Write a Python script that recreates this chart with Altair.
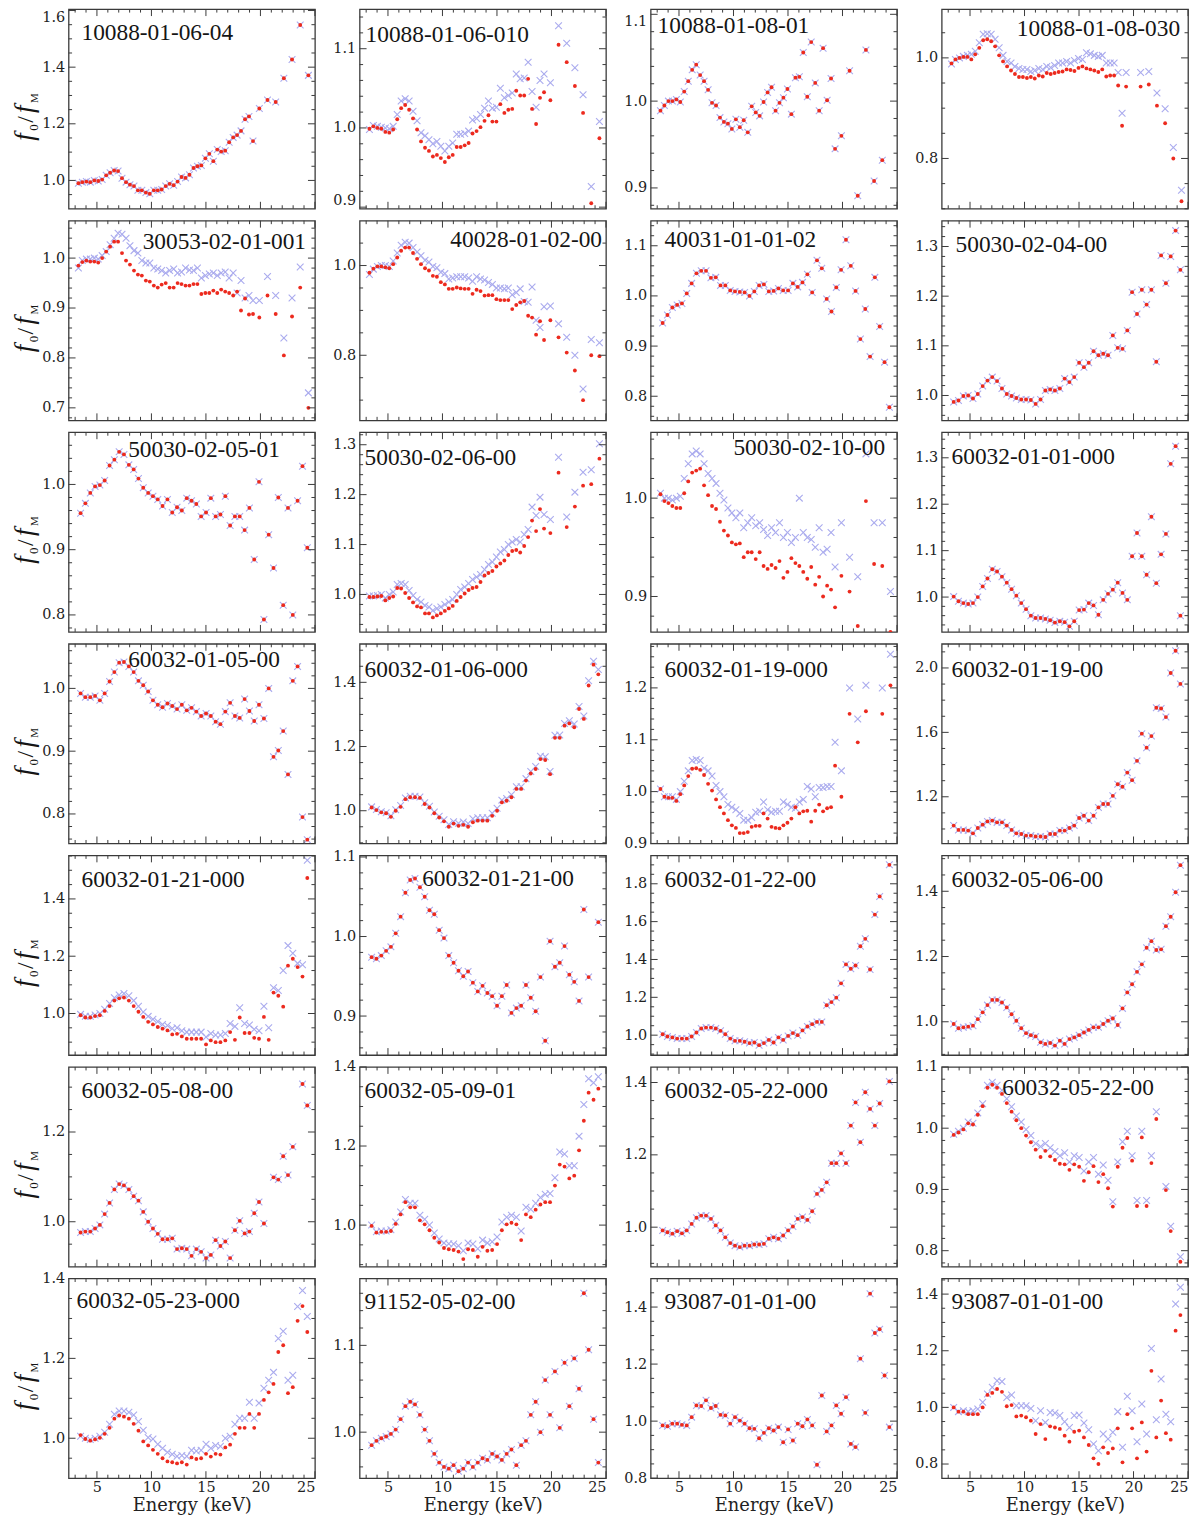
import altair as alt
import pandas as pd
import numpy as np

# ---------------- energy grids (keV) ----------------
EA = [3.30, 3.66, 4.03, 4.39, 4.76, 5.12, 5.48, 5.85, 6.21, 6.58, 6.94, 7.30, 7.67, 8.03, 8.40,
      8.76, 9.12, 9.49, 9.85, 10.22, 10.58, 10.94, 11.31, 11.67, 12.04, 12.40, 12.76, 13.13, 13.49,
      13.86, 14.22, 14.58, 14.95, 15.31, 15.68, 16.04, 16.40, 16.77, 17.13, 17.50, 17.86, 18.22,
      18.59, 18.95, 19.32, 19.90, 20.65, 21.40, 22.15, 22.90, 23.65, 24.40]
EB = [3.50, 3.94, 4.39, 4.83, 5.27, 5.71, 6.16, 6.60, 7.04, 7.48, 7.93, 8.37, 8.81, 9.25, 9.70,
      10.14, 10.58, 11.02, 11.47, 11.91, 12.35, 12.79, 13.24, 13.68, 14.12, 14.56, 15.01, 15.45,
      15.89, 16.33, 16.78, 17.22, 17.66, 18.10, 18.55, 18.99, 19.43, 19.87, 20.32, 20.76, 21.20,
      21.64, 22.09, 22.53, 22.97, 23.41, 23.86, 24.30]

# ---------------- ratio values: R = red dots, B = lavender crosses ----------------
R01 = [0.990, 0.994, 0.996, 0.994, 1.000, 0.998, 1.003, 1.018, 1.027, 1.035, 1.033, 1.008, 0.994, 0.985, 0.980, 0.965, 0.965, 0.957, 0.953, 0.965, 0.965, 0.968, 0.980, 0.988, 0.983, 0.996, 1.012, 1.009, 1.020, 1.044, 1.050, 1.053, 1.078, 1.094, 1.068, 1.109, 1.102, 1.105, 1.135, 1.152, 1.160, 1.175, 1.216, 1.226, 1.139, 1.254, 1.284, 1.277, 1.361, 1.427, 1.549, 1.371]
R02 = [0.999, 1.002, 1.0, 0.999, 0.995, 0.994, 0.998, 1.011, 1.025, 1.029, 1.023, 1.012, 0.998, 0.983, 0.975, 0.971, 0.964, 0.966, 0.962, 0.957, 0.963, 0.966, 0.976, 0.976, 0.978, 0.981, 0.993, 0.996, 1.001, 1.009, 1.016, 1.008, 1.008, 1.030, 1.019, 1.023, 1.024, 1.047, 1.041, 1.041, 1.062, 1.024, 1.005, 1.038, 1.045, 1.035, 1.105, 1.083, 1.053, 1.019, 0.905, 0.987]
B02 = [0.998, 1.003, 1.002, 1.001, 1.0, 0.999, 1.002, 1.017, 1.034, 1.037, 1.034, 1.021, 1.009, 0.994, 0.99, 0.985, 0.98, 0.983, 0.977, 0.971, 0.977, 0.981, 0.992, 0.992, 0.993, 0.996, 1.010, 1.012, 1.017, 1.025, 1.034, 1.025, 1.026, 1.050, 1.038, 1.041, 1.044, 1.068, 1.062, 1.063, 1.083, 1.046, 1.026, 1.06, 1.068, 1.057, 1.129, 1.107, 1.076, 1.042, 0.926, 1.008]
R03 = [0.989, 0.995, 1.0, 1.0, 1.002, 0.999, 1.011, 1.023, 1.036, 1.042, 1.030, 1.023, 1.013, 0.998, 0.995, 0.981, 0.976, 0.974, 0.968, 0.979, 0.970, 0.978, 0.964, 0.994, 0.987, 0.983, 0.999, 1.010, 1.016, 0.989, 0.998, 1.004, 1.014, 0.985, 1.027, 1.028, 1.056, 1.005, 1.068, 1.021, 0.989, 1.061, 1.001, 1.026, 0.945, 0.960, 1.035, 0.891, 1.059, 0.908, 0.932, None]
R04 = [0.989, 0.997, 1.0, 1.002, 1.002, 0.997, 1.007, 1.02, 1.035, 1.037, 1.033, 1.023, 1.005, 0.993, 0.983, 0.975, 0.968, 0.962, 0.962, 0.960, 0.962, 0.959, 0.965, 0.963, 0.970, 0.968, 0.970, 0.972, 0.973, 0.977, 0.976, 0.974, 0.980, 0.983, 0.979, 0.977, 0.975, 0.972, 0.977, 0.963, 0.965, 0.965, 0.945, 0.865, 0.943, None, 0.943, 0.947, 0.905, 0.87, 0.80, 0.715]
B04 = [0.988, 0.997, 1.0, 1.003, 1.005, 1.007, 1.013, 1.03, 1.047, 1.048, 1.047, 1.037, 1.02, 1.005, 0.993, 0.99, 0.983, 0.979, 0.977, 0.977, 0.973, 0.975, 0.979, 0.977, 0.983, 0.981, 0.985, 0.99, 0.99, 0.993, 0.99, 0.995, 0.999, 0.997, 1.01, 1.008, 1.005, 1.003, 1.005, 0.99, 0.99, 0.99, 0.971, 0.89, 0.971, None, 0.971, 0.973, 0.93, 0.899, 0.822, 0.737]
R05 = [0.985, 0.992, 0.995, 0.993, 0.993, 0.991, 1.0, 1.013, 1.023, 1.033, 1.033, 1.01, 0.995, 0.987, 0.975, 0.967, 0.965, 0.955, 0.953, 0.945, 0.941, 0.947, 0.95, 0.941, 0.941, 0.95, 0.948, 0.945, 0.945, 0.948, 0.948, 0.928, 0.93, 0.93, 0.935, 0.93, 0.937, 0.933, 0.93, 0.925, 0.933, 0.895, 0.919, 0.887, 0.888, 0.881, 0.925, 0.888, 0.805, 0.883, 0.941, 0.70]
B05 = [0.98, 0.995, 0.998, 0.998, 1.0, 0.998, 1.005, 1.013, 1.027, 1.04, 1.05, 1.048, 1.04, 1.025, 1.015, 1.01, 0.995, 0.99, 0.99, 0.98, 0.978, 0.975, 0.97, 0.975, 0.978, 0.97, 0.972, 0.98, 0.976, 0.975, 0.98, 0.96, 0.965, 0.968, 0.97, 0.965, 0.97, 0.972, 0.96, 0.97, 0.93, 0.955, 0.92, 0.925, 0.915, 0.915, 0.963, 0.925, 0.84, 0.92, 0.982, 0.73]
R06 = [0.984, 0.993, 0.998, 0.998, 0.996, 0.994, 1.003, 1.018, 1.033, 1.04, 1.04, 1.028, 1.015, 1.003, 0.994, 0.989, 0.977, 0.975, 0.963, 0.958, 0.948, 0.948, 0.951, 0.949, 0.948, 0.948, 0.937, 0.946, 0.943, 0.933, 0.934, 0.934, 0.925, 0.923, 0.923, 0.923, 0.903, 0.912, 0.918, 0.921, 0.888, 0.884, 0.846, 0.876, 0.834, 0.878, 0.84, 0.806, 0.766, 0.70, 0.80, 0.798]
B06 = [0.98, 0.992, 0.998, 1.0, 1.0, 0.998, 1.01, 1.028, 1.045, 1.052, 1.05, 1.04, 1.03, 1.022, 1.012, 1.008, 0.998, 0.995, 0.985, 0.982, 0.97, 0.972, 0.975, 0.975, 0.975, 0.972, 0.965, 0.975, 0.97, 0.968, 0.962, 0.958, 0.95, 0.95, 0.948, 0.95, 0.935, 0.94, 0.948, 0.92, 0.918, 0.952, 0.878, 0.862, 0.908, 0.91, 0.87, 0.84, 0.80, 0.725, 0.835, 0.828]
R07 = [0.946, 0.962, 0.977, 0.982, 0.985, 1.005, 1.025, 1.045, 1.05, 1.05, 1.036, 1.037, 1.021, 1.021, 1.011, 1.009, 1.008, 1.007, 1.0, 1.009, 1.021, 1.023, 1.009, 1.01, 1.015, 1.011, 1.011, 1.025, 1.018, 1.027, 1.043, 1.007, 1.071, 1.055, 0.994, 0.969, 1.017, 1.052, 1.112, 1.06, 1.01, 0.914, 0.974, 0.879, 1.037, 0.939, 0.868, 0.778]
R08 = [0.987, 0.99, 0.999, 1.0, 0.994, 1.003, 1.019, 1.03, 1.037, 1.029, 1.014, 1.003, 0.999, 0.995, 0.992, 0.992, 0.991, 0.983, 0.992, 1.01, 1.012, 1.01, 1.014, 1.034, 1.027, 1.037, 1.066, 1.057, 1.066, 1.089, 1.081, 1.084, 1.081, 1.121, 1.096, 1.094, 1.131, 1.208, 1.164, 1.213, 1.183, 1.213, 1.068, 1.282, 1.226, 1.28, 1.332, 1.253]
R09 = [0.956, 0.971, 0.987, 0.997, 0.999, 1.006, 1.029, 1.038, 1.05, 1.046, 1.03, 1.023, 1.009, 0.995, 0.987, 0.982, 0.977, 0.967, 0.977, 0.957, 0.965, 0.96, 0.979, 0.975, 0.97, 0.951, 0.957, 0.979, 0.951, 0.954, 0.982, 0.937, 0.951, 0.951, 0.93, 0.964, 0.885, 1.004, 0.793, 0.923, 0.872, 0.98, 0.815, 0.964, 0.80, 0.975, 1.028, 0.903]
R10 = [0.995, 0.995, 0.996, 0.997, 0.988, 0.993, 0.996, 1.013, 1.012, 1.003, 0.993, 0.984, 0.976, 0.974, 0.962, 0.962, 0.954, 0.958, 0.962, 0.967, 0.972, 0.977, 0.987, 0.995, 1.002, 1.009, 1.013, 1.015, 1.025, 1.038, 1.043, 1.047, 1.056, 1.062, 1.068, 1.079, 1.087, 1.089, 1.084, 1.097, 1.115, 1.148, 1.127, 1.171, 1.132, 1.123, 1.244, 1.135, 1.176, 1.218, 1.221, 1.272]
B10 = [0.997, 0.997, 0.998, 1.0, 0.993, 1.0, 1.005, 1.02, 1.022, 1.02, 1.008, 0.998, 0.99, 0.985, 0.978, 0.975, 0.968, 0.972, 0.975, 0.98, 0.985, 0.99, 1.0, 1.01, 1.015, 1.022, 1.03, 1.035, 1.04, 1.05, 1.06, 1.065, 1.075, 1.085, 1.09, 1.1, 1.105, 1.11, 1.105, 1.12, 1.13, 1.175, 1.158, 1.195, 1.16, 1.15, 1.275, 1.155, 1.205, 1.245, 1.25, 1.302]
R11 = [1.004, 0.997, 0.995, 0.992, 0.99, 0.99, 1.005, 1.017, 1.026, 1.028, 1.03, 1.013, 1.003, 0.992, 0.989, 0.976, 0.967, 0.962, 0.955, 0.953, 0.954, 0.94, 0.945, 0.945, 0.938, 0.945, 0.931, 0.928, 0.932, 0.929, 0.936, 0.919, 0.925, 0.939, 0.934, 0.931, 0.925, 0.918, 0.93, 0.912, 0.92, 0.90, 0.911, 0.907, 0.889, 0.921, 0.905, 0.87, 0.997, 0.933, 0.931, 0.864]
B11 = [1.005, 1.0, 1.0, 0.998, 1.0, 1.002, 1.02, 1.035, 1.045, 1.048, 1.045, 1.035, 1.025, 1.02, 1.015, 1.005, 0.998, 0.99, 0.985, 0.98, 0.985, 0.97, 0.975, 0.98, 0.972, 0.975, 0.968, 0.962, 0.97, 0.965, 0.975, 0.96, 0.965, 0.955, 0.96, 1.0, 0.965, 0.96, 0.958, 0.95, 0.97, 0.945, 0.948, 0.965, 0.93, 0.975, 0.94, 0.92, 1.045, 0.975, 0.975, 0.905]
R12 = [1.001, 0.991, 0.987, 0.985, 0.987, 1.0, 1.023, 1.04, 1.06, 1.055, 1.044, 1.031, 1.017, 1.003, 0.987, 0.974, 0.96, 0.955, 0.955, 0.953, 0.95, 0.945, 0.948, 0.946, 0.937, 0.948, 0.972, 0.973, 0.987, 0.982, 0.962, 0.994, 1.007, 1.016, 1.031, 1.009, 0.994, 1.088, 1.138, 1.088, 1.048, 1.173, 1.03, 1.092, 1.136, 1.287, 1.325, 0.96]
R13 = [0.992, 0.986, 0.986, 0.988, 0.981, 0.992, 1.011, 1.026, 1.041, 1.042, 1.035, 1.026, 1.012, 1.005, 0.995, 0.981, 0.974, 0.97, 0.976, 0.972, 0.967, 0.974, 0.965, 0.969, 0.963, 0.956, 0.96, 0.956, 0.947, 0.943, 0.963, 0.977, 0.956, 0.953, 0.983, 0.964, 0.948, 0.974, 0.952, 1.0, 0.891, 0.901, 0.932, 0.863, 1.012, 1.035, 0.795, 0.759]
R14 = [1.01, 1.002, 0.995, 0.992, 0.981, 1.0, 1.012, 1.036, 1.042, 1.042, 1.04, 1.021, 1.01, 0.992, 0.979, 0.967, 0.95, 0.96, 0.953, 0.956, 0.95, 0.964, 0.969, 0.969, 0.969, 0.984, 1.0, 1.026, 1.031, 1.042, 1.068, 1.068, 1.094, 1.116, 1.13, 1.161, 1.158, 1.114, 1.227, 1.227, 1.265, 1.272, 1.26, 1.317, 1.286, 1.39, 1.455, 1.425]
B14 = [1.012, 1.004, 0.997, 0.994, 0.984, 1.003, 1.016, 1.04, 1.045, 1.045, 1.043, 1.025, 1.014, 0.996, 0.983, 0.972, 0.957, 0.966, 0.961, 0.965, 0.96, 0.975, 0.978, 0.978, 0.978, 0.992, 1.008, 1.033, 1.038, 1.05, 1.075, 1.075, 1.1, 1.122, 1.138, 1.17, 1.168, 1.122, 1.235, 1.236, 1.272, 1.28, 1.27, 1.325, 1.295, 1.405, 1.466, 1.44]
R15 = [1.005, 0.99, 0.988, 0.988, 0.982, 0.995, 1.012, 1.03, 1.044, 1.045, 1.042, 1.032, 1.015, 1.002, 0.985, 0.97, 0.958, 0.945, 0.935, 0.93, 0.92, 0.92, 0.922, 0.932, 0.934, 0.934, 0.958, 0.948, 0.932, 0.93, 0.929, 0.935, 0.94, 0.948, 0.97, 0.958, 0.962, 0.963, 0.942, 0.963, 0.975, 0.962, 0.968, 0.97, 1.05, 0.99, 1.15, 1.095, 1.155, None, 1.15, 1.205]
B15 = [1.005, 0.99, 0.99, 0.99, 0.985, 1.0, 1.02, 1.04, 1.06, 1.062, 1.06, 1.045, 1.04, 1.03, 1.012, 1.0, 0.99, 0.975, 0.97, 0.965, 0.958, 0.945, 0.945, 0.95, 0.96, 0.962, 0.98, 0.965, 0.96, 0.962, 0.962, 0.98, 0.975, 0.97, 0.968, 0.98, 0.985, 1.01, 1.005, 0.99, 1.008, 1.008, 1.01, 1.01, 1.095, 1.04, 1.2, 1.14, 1.205, None, 1.2, 1.265]
R16 = [1.021, 0.994, 0.994, 0.99, 0.973, 1.006, 1.027, 1.047, 1.052, 1.041, 1.041, 1.021, 0.994, 0.973, 0.969, 0.959, 0.959, 0.953, 0.953, 0.95, 0.969, 0.969, 0.99, 0.99, 1.006, 1.021, 1.068, 1.082, 1.052, 1.082, 1.134, 1.155, 1.155, 1.206, 1.278, 1.262, 1.35, 1.303, 1.423, 1.592, 1.505, 1.577, 1.753, 1.748, 1.695, 1.969, 2.107, 1.901]
R17 = [0.994, 0.986, 0.986, 0.991, 0.994, 1.009, 1.026, 1.045, 1.053, 1.056, 1.045, 1.026, 1.006, 0.988, 0.971, 0.962, 0.953, 0.947, 0.941, 0.927, 0.929, 0.92, 0.912, 0.912, 0.912, 0.912, 0.892, 0.906, 0.9, 0.9, 0.906, 0.935, 0.908, 0.986, 0.932, 0.932, 0.915, 0.912, 0.988, 0.908, 1.073, 1.062, 1.024, 1.167, 1.191, 1.162, 1.129, 1.473]
B17 = [0.997, 0.99, 0.99, 0.995, 1.0, 1.015, 1.035, 1.055, 1.065, 1.07, 1.062, 1.045, 1.025, 1.005, 0.99, 0.98, 0.972, 0.962, 0.958, 0.948, 0.95, 0.94, 0.935, 0.935, 0.935, 0.935, 0.918, 0.93, 0.925, 0.925, 0.93, 0.965, 0.955, 1.02, 0.965, 0.96, 0.945, 0.94, 1.025, 0.95, 1.09, 1.08, 1.15, 1.237, 1.21, 1.175, 1.17, 1.535]
R18 = [0.974, 0.972, 0.976, 0.982, 0.987, 1.004, 1.025, 1.055, 1.071, 1.073, 1.062, 1.05, 1.033, 1.028, 1.008, 0.998, 0.976, 0.967, 0.957, 0.95, 0.956, 0.942, 0.931, 0.938, 0.929, 0.925, 0.913, 0.925, 0.939, 0.904, 0.91, 0.913, 0.939, 0.923, 0.906, 0.949, 0.869, 0.994, 0.962, 0.967, 0.988, 0.952, 0.943, 0.919, 1.034, 0.949, None, 1.018]
R19 = [1.005, 0.993, 0.988, 0.982, 0.982, 0.982, 0.993, 1.014, 1.035, 1.04, 1.04, 1.035, 1.023, 1.005, 0.982, 0.97, 0.97, 0.965, 0.958, 0.961, 0.947, 0.958, 0.975, 0.961, 0.988, 0.975, 0.996, 1.011, 1.0, 1.025, 1.046, 1.058, 1.07, 1.07, 1.158, 1.175, 1.198, 1.274, 1.374, 1.351, 1.368, 1.47, 1.509, 1.347, 1.637, 1.733, None, 1.9]
R20 = [0.993, 0.98, 0.983, 0.985, 0.988, 1.008, 1.029, 1.051, 1.067, 1.067, 1.059, 1.044, 1.023, 1.003, 0.98, 0.965, 0.959, 0.955, 0.937, 0.932, 0.935, 0.927, 0.942, 0.932, 0.947, 0.952, 0.959, 0.967, 0.975, 0.983, 0.983, 0.993, 1.003, 1.01, 0.99, 1.041, 1.09, 1.115, 1.153, 1.176, 1.227, 1.247, 1.22, 1.222, 1.293, 1.322, 1.397, 1.48]
R21 = [0.976, 0.978, 0.978, 0.985, 0.993, 1.017, 1.042, 1.072, 1.084, 1.081, 1.072, 1.057, 1.047, 1.022, 1.0, 0.985, 0.973, 0.961, 0.961, 0.963, 0.939, 0.941, 0.939, 0.924, 0.939, 0.933, 0.919, 0.926, 0.959, 0.946, 0.956, 0.919, 0.981, 1.002, 0.974, 0.978, 1.019, 1.044, 0.996, None, 1.099, 1.094, 1.146, 1.104, 1.167, None, 1.307, 1.259]
R22 = [0.998, 0.981, 0.983, 0.983, 0.985, 1.003, 1.027, 1.058, 1.045, 1.045, 1.012, 1.002, 0.987, 0.968, 0.956, 0.942, 0.939, 0.937, 0.933, 0.914, 0.939, 0.937, 0.92, 0.945, 0.935, 0.937, 0.952, 0.987, 1.002, 1.006, 1.002, 0.962, 1.027, 1.02, 1.039, 1.052, 1.058, 1.058, 1.10, 1.153, 1.148, 1.118, 1.125, 1.189, 1.264, 1.335, 1.317, 1.345]
B22 = [1.0, 0.983, 0.985, 0.985, 0.988, 1.008, 1.033, 1.065, 1.055, 1.055, 1.025, 1.015, 1.0, 0.98, 0.965, 0.955, 0.953, 0.952, 0.948, 0.935, 0.955, 0.952, 0.94, 0.962, 0.955, 0.958, 0.97, 1.008, 1.02, 1.025, 1.02, 0.985, 1.045, 1.04, 1.055, 1.07, 1.078, 1.08, 1.12, 1.185, 1.18, 1.15, 1.15, 1.225, 1.305, 1.37, 1.36, 1.375]
R23 = [0.991, 0.986, 0.982, 0.989, 0.983, 0.991, 1.009, 1.026, 1.032, 1.032, 1.023, 1.005, 0.991, 0.972, 0.956, 0.949, 0.945, 0.949, 0.949, 0.952, 0.952, 0.954, 0.968, 0.972, 0.968, 0.977, 0.991, 1.002, 1.023, 1.028, 1.02, 1.044, 1.092, 1.103, 1.124, 1.177, 1.177, 1.204, 1.177, 1.281, 1.345, 1.235, 1.373, 1.327, 1.281, 1.342, None, 1.403]
R24 = [0.989, 0.993, 0.998, 1.008, 1.006, 1.022, 1.036, 1.066, 1.071, 1.066, 1.056, 1.041, 1.027, 1.013, 1.0, 0.988, 0.977, 0.965, 0.953, 0.963, 0.954, 0.948, 0.942, 0.941, 0.932, 0.941, 0.937, 0.914, 0.928, 0.938, 0.912, 0.925, 0.902, 0.872, 0.937, 0.968, 0.984, 0.947, 0.873, 0.985, 0.873, 0.943, 1.015, None, 0.899, 0.832, None, 0.782]
B24 = [0.99, 0.995, 1.0, 1.01, 1.008, 1.025, 1.04, 1.07, 1.075, 1.07, 1.062, 1.048, 1.035, 1.02, 1.01, 0.998, 0.988, 0.975, 0.97, 0.975, 0.968, 0.962, 0.955, 0.96, 0.945, 0.955, 0.952, 0.93, 0.945, 0.952, 0.925, 0.94, 0.915, 0.88, 0.945, 0.978, 0.995, 0.955, 0.882, 0.995, 0.882, 0.955, 1.027, None, 0.905, 0.84, None, 0.79]
R25 = [1.008, 0.998, 0.994, 0.997, 1.001, 1.011, 1.026, 1.049, 1.057, 1.054, 1.049, 1.036, 1.019, 0.992, 0.982, 0.971, 0.961, 0.95, 0.942, 0.94, 0.937, 0.94, 0.934, 0.952, 0.948, 0.95, 0.961, 0.954, 0.961, 0.959, 0.977, 0.984, 1.011, 1.026, 1.026, 1.061, 1.026, 1.061, 1.096, 1.115, 1.136, 1.216, 1.233, 1.113, 1.128, 1.294, 1.331, 1.266]
B25 = [1.005, 1.0, 0.997, 1.0, 1.005, 1.015, 1.035, 1.06, 1.068, 1.068, 1.065, 1.058, 1.042, 1.02, 1.002, 0.998, 0.985, 0.975, 0.965, 0.96, 0.955, 0.957, 0.955, 0.97, 0.968, 0.97, 0.985, 0.975, 0.982, 0.98, 1.0, 1.005, 1.035, 1.05, 1.05, 1.09, 1.05, 1.088, 1.125, 1.145, 1.165, 1.25, 1.268, 1.145, 1.158, 1.33, 1.37, 1.305]
R26 = [0.985, 0.99, 0.993, 0.995, 0.998, 1.003, 1.015, 1.03, 1.035, 1.032, 1.02, 1.003, 0.99, 0.975, 0.965, 0.96, 0.958, 0.962, 0.955, 0.958, 0.965, 0.96, 0.965, 0.97, 0.968, 0.975, 0.972, 0.968, 0.975, 0.98, 0.962, 0.985, 0.99, 1.02, 1.035, 1.0, 1.06, 1.02, 1.07, 1.005, 1.08, 1.03, 1.085, 1.05, 1.16, 1.095, 1.015, 0.965]
R27 = [0.985, 0.982, 0.991, 0.991, 0.987, 0.985, 1.014, 1.055, 1.053, 1.073, 1.046, 1.053, 1.022, 1.02, 0.991, 1.014, 1.002, 0.991, 0.975, 0.973, 0.94, 0.959, 0.975, 0.967, 0.979, 0.926, 0.971, 0.932, 0.991, 0.982, 1.006, 0.985, 0.847, 1.09, 0.964, 0.985, 1.055, 1.026, 1.084, 0.92, 0.909, 1.219, 1.029, 1.447, 1.309, 1.322, 1.16, 0.979]
R28 = [1.0, 0.985, 0.985, 0.976, 0.976, 0.976, 1.0, 1.044, 1.051, 1.065, 1.055, 1.004, 1.008, 0.968, 0.971, 0.965, 0.953, 0.906, 0.941, 0.888, 0.933, 0.929, 0.924, 0.9, 0.879, 0.914, 0.918, 0.894, 0.867, 0.82, 0.80, 0.859, 0.839, 0.855, 0.926, 0.806, 0.976, 0.926, 0.82, 0.947, 0.844, 1.129, 0.894, 1.024, 0.909, 0.886, 1.271, 1.326]
B28 = [1.0, 0.985, 0.988, 0.985, 0.988, 0.994, 1.018, 1.047, 1.071, 1.094, 1.091, 1.035, 1.044, 1.006, 1.006, 1.006, 0.996, 0.953, 0.988, 0.947, 0.982, 0.98, 0.971, 0.949, 0.929, 0.971, 0.973, 0.945, 0.921, 0.871, 0.847, 0.906, 0.888, 0.912, 0.985, 0.859, 1.039, 0.988, 0.879, 1.012, 0.906, 1.208, 0.956, 1.1, 0.976, 0.949, 1.365, 1.424]

# observation ids, y ranges and y tick labels per panel
OBS = ["10088-01-06-04", "10088-01-06-010", "10088-01-08-01", "10088-01-08-030",
       "30053-02-01-001", "40028-01-02-00", "40031-01-01-02", "50030-02-04-00",
       "50030-02-05-01", "50030-02-06-00", "50030-02-10-00", "60032-01-01-000",
       "60032-01-05-00", "60032-01-06-000", "60032-01-19-000", "60032-01-19-00",
       "60032-01-21-000", "60032-01-21-00", "60032-01-22-00", "60032-05-06-00",
       "60032-05-08-00", "60032-05-09-01", "60032-05-22-000", "60032-05-22-00",
       "60032-05-23-000", "91152-05-02-00", "93087-01-01-00", "93087-01-01-00"]
YDOM = [(0.90, 1.605), (0.898, 1.15), (0.876, 1.106), (0.70, 1.097),
        (0.675, 1.075), (0.655, 1.10), (0.752, 1.15), (0.95, 1.352),
        (0.774, 1.08), (0.925, 1.325), (0.864, 1.067), (0.925, 1.355),
        (0.753, 1.071), (0.898, 1.52), (0.90, 1.285), (0.91, 2.15),
        (0.855, 1.552), (0.851, 1.102), (0.895, 1.95), (0.898, 1.51),
        (0.90, 1.345), (0.895, 1.40), (0.891, 1.443), (0.774, 1.10),
        (0.90, 1.40), (0.947, 1.177), (0.80, 1.50), (0.75, 1.455)]
YTICKS = [[1.0, 1.2, 1.4, 1.6], [0.9, 1.0, 1.1], [0.9, 1.0, 1.1], [0.8, 1.0],
          [0.7, 0.8, 0.9, 1.0], [0.8, 1.0], [0.8, 0.9, 1.0, 1.1], [1.0, 1.1, 1.2, 1.3],
          [0.8, 0.9, 1.0], [1.0, 1.1, 1.2, 1.3], [0.9, 1.0], [1.0, 1.1, 1.2, 1.3],
          [0.8, 0.9, 1.0], [1.0, 1.2, 1.4], [0.9, 1.0, 1.1, 1.2], [1.2, 1.6, 2.0],
          [1.0, 1.2, 1.4], [0.9, 1.0, 1.1], [1.0, 1.2, 1.4, 1.6, 1.8], [1.0, 1.2, 1.4],
          [1.0, 1.2], [1.0, 1.2, 1.4], [1.0, 1.2, 1.4], [0.8, 0.9, 1.0, 1.1],
          [1.0, 1.2, 1.4], [1.0, 1.1], [0.8, 1.0, 1.2, 1.4], [0.8, 1.0, 1.2, 1.4]]
XTICKS = [5, 10, 15, 20, 25]

REDS = [R01, R02, R03, R04, R05, R06, R07, R08, R09, R10, R11, R12, R13, R14,
        R15, R16, R17, R18, R19, R20, R21, R22, R23, R24, R25, R26, R27, R28]
BLUES = [R01, B02, R03, B04, B05, B06, R07, R08, R09, B10, B11, R12, R13, B14,
         B15, R16, B17, R18, R19, R20, R21, B22, R23, B24, B25, R26, R27, B28]
GRID = ["A", "A", "A", "A", "A", "A", "B", "B", "B", "A", "A", "B", "B", "B",
        "A", "B", "B", "B", "B", "B", "B", "B", "B", "B", "B", "B", "B", "B"]

# ---------------- layout / style (not data) ----------------
W, H = 248, 201
HSP, VSP = 45, 12
SERIF = "Liberation Serif"
TICKF = "DejaVu Serif"
FRAME = "#3a3a3a"
RED = "#ec2a1e"
LAV = "#aaabee"
XPATH = "M-1,-1L1,1M-1,1L1,-1"
# label placement: (x offset from left (>=0) or from right (<0), y)
LABPOS = [(13, 24), (6, 26), (7, 17), (-8, 20),
          (-9, 22), (-4, 20), (14, 20), (14, 25),
          (60, 18), (5, 26), (-12, 16), (10, 25),
          (60, 16), (5, 26), (14, 26), (10, 26),
          (13, 25), (63, 24), (14, 25), (10, 25),
          (13, 24), (5, 24), (14, 24), (61, 21),
          (8, 23), (5, 24), (14, 24), (10, 24)]


def minor_y(ticks, dom):
    step = round(ticks[1] - ticks[0], 3) if len(ticks) > 1 else 0.1
    sub = step / 4 if abs(step - 0.1) > 1e-6 else step / 5
    start = np.floor(dom[0] / sub) * sub
    vals = np.arange(start, dom[1] + 1e-9, sub)
    out = []
    for v in vals:
        if dom[0] < v < dom[1] and min(abs(v - t) for t in ticks) > 1e-6:
            out.append(round(float(v), 4))
    return out


def panel(k, row, col):
    E = EA if GRID[k] == "A" else EB
    n = len(E)
    red = (list(REDS[k]) + [None] * n)[:n]
    blue = (list(BLUES[k]) + [None] * n)[:n]
    dr = pd.DataFrame({"E": E, "v": red}).dropna()
    db = pd.DataFrame({"E": E, "v": blue}).dropna()
    dom = YDOM[k]
    ticks = YTICKS[k]
    xs = alt.Scale(domain=[2.4, 25.0], nice=False, zero=False)
    ys = alt.Scale(domain=list(dom), nice=False, zero=False)
    if row == 6:
        xaxis = alt.Axis(values=XTICKS, ticks=False, domain=False, grid=False,
                         labelFont=TICKF, labelFontSize=14.5, labelColor="#222",
                         labelPadding=2, title="Energy (keV)", titleFont=TICKF,
                         titleFontSize=18, titleFontWeight="normal", titleColor="#222",
                         titlePadding=3)
    else:
        xaxis = None
    yopts = dict(values=ticks, format=".1f", ticks=False, domain=False, grid=False,
                 labelFont=TICKF, labelFontSize=14.5, labelColor="#222", labelPadding=4,
                 title=None)
    if row == 0:
        yopts["labelFlush"] = 8
    yaxis = alt.Axis(**yopts)
    X = alt.X("E:Q", scale=xs, axis=xaxis)
    Y = alt.Y("v:Q", scale=ys, axis=yaxis)

    layers = []
    layers.append(alt.Chart(db).mark_point(shape=XPATH, size=46, filled=False, color=LAV,
                                           strokeWidth=1.1, opacity=1, clip=True).encode(x=X, y=Y))
    layers.append(alt.Chart(dr).mark_circle(size=15, color=RED, opacity=1, clip=True).encode(x=X, y=Y))

    # inward ticks (major + minor) on all four sides
    ymaj = pd.DataFrame({"v": ticks})
    ymin = pd.DataFrame({"v": minor_y(ticks, dom)})
    xmaj = pd.DataFrame({"E": XTICKS})
    xmin = pd.DataFrame({"E": [e for e in range(3, 25) if e % 5 != 0]})
    rk = dict(color=FRAME, strokeWidth=1)
    layers.append(alt.Chart(ymaj).mark_rule(**rk).encode(y=Y, x=alt.value(0), x2=alt.value(7)))
    layers.append(alt.Chart(ymaj).mark_rule(**rk).encode(y=Y, x=alt.value(W - 7), x2=alt.value(W)))
    if len(ymin):
        layers.append(alt.Chart(ymin).mark_rule(**rk).encode(y=Y, x=alt.value(0), x2=alt.value(3.5)))
        layers.append(alt.Chart(ymin).mark_rule(**rk).encode(y=Y, x=alt.value(W - 3.5), x2=alt.value(W)))
    layers.append(alt.Chart(xmaj).mark_rule(**rk).encode(x=X, y=alt.value(H), y2=alt.value(H - 7)))
    layers.append(alt.Chart(xmaj).mark_rule(**rk).encode(x=X, y=alt.value(0), y2=alt.value(7)))
    layers.append(alt.Chart(xmin).mark_rule(**rk).encode(x=X, y=alt.value(H), y2=alt.value(H - 3.5)))
    layers.append(alt.Chart(xmin).mark_rule(**rk).encode(x=X, y=alt.value(0), y2=alt.value(3.5)))

    # observation id label
    lx, ly = LABPOS[k]
    if lx >= 0:
        px, al = lx, "left"
    else:
        px, al = W + lx, "right"
    layers.append(alt.Chart(pd.DataFrame({"t": [OBS[k]]})).mark_text(
        font=SERIF, fontSize=23.5, align=al, baseline="middle", color="#151515"
    ).encode(x=alt.value(px), y=alt.value(ly), text="t:N"))

    # y title f_0 / f_M for the first column
    if col == 0:
        yc = H / 2 + 7
        y0 = yc + 25
        pieces = [("f", 27, "italic", 0, 0), ("0", 13, "normal", 10, 5),
                  ("/", 24, "normal", 18, 0), ("f", 27, "italic", 28, 0),
                  ("M", 11, "normal", 38, 5)]
        for txt, fs, st, u, dx in pieces:
            layers.append(alt.Chart(pd.DataFrame({"t": [txt]})).mark_text(
                font=SERIF, fontSize=fs, fontStyle=st, angle=270, align="left",
                baseline="alphabetic", color="#151515"
            ).encode(x=alt.value(-36 + dx), y=alt.value(y0 - u), text="t:N"))

    return alt.layer(*layers).properties(width=W, height=H)


panels = [panel(r * 4 + c, r, c) for r in range(7) for c in range(4)]

chart = alt.concat(*panels, columns=4, spacing={"row": VSP, "column": HSP}, bounds="flush").properties(
    padding={"left": 2, "top": -6, "right": 2, "bottom": 0}
).configure(background="white").configure_view(stroke=FRAME, strokeWidth=1.3)

chart.save("out.html", embed_options={"renderer": "svg", "actions": False})
